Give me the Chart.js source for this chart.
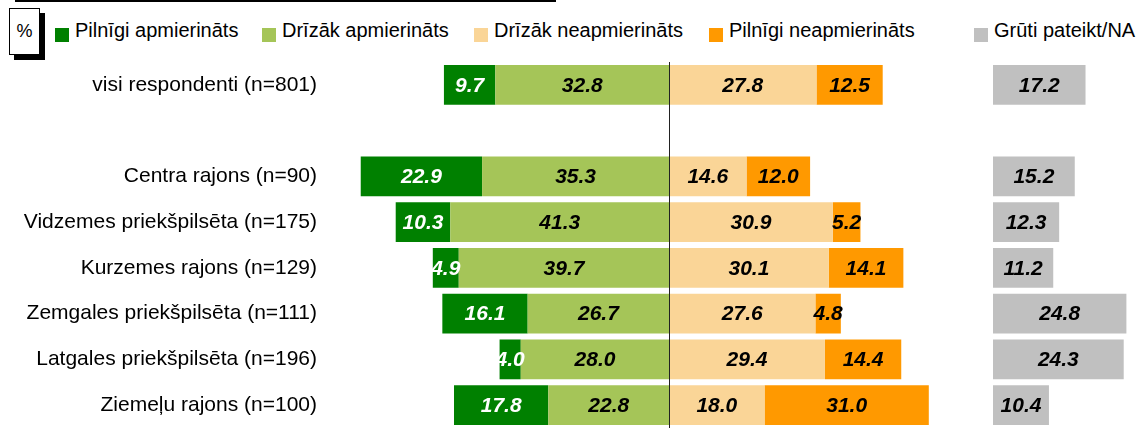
<!DOCTYPE html>
<html>
<head>
<meta charset="utf-8">
<script src="https://cdn.jsdelivr.net/npm/chart.js@4"></script>
<style>
  body { margin: 0; background: #fff; font-family: "Liberation Sans", Arial, sans-serif; }
  #wrap { position: relative; width: 1142px; height: 428px; overflow: hidden; }
  #topline { position: absolute; left: 15px; top: 0; width: 541px; height: 2px; background: #000; }
  #pct { position: absolute; left: 9px; top: 8px; width: 29px; height: 45px; border: 1px solid #000; background: #fff;
         box-shadow: 5px 5px 0 #000; font-size: 18px; line-height: 45px; text-align: center; }
  .lg { position: absolute; top: 18px; font-size: 20px; line-height: 24px; white-space: nowrap; color: #000; }
  .lg i { position: absolute; left: -20px; top: 10px; width: 14px; height: 14px; }
  #mainBox { position: absolute; left: 0; top: 62px; width: 950px; height: 366px; }
  #naBox { position: absolute; left: 993px; top: 62px; width: 149px; height: 366px; }
</style>
</head>
<body>
<div id="wrap">
  <div id="topline"></div>
  <div id="pct">%</div>
  <div id="legend"></div>
  <div id="mainBox"><canvas id="mainChart"></canvas></div>
  <div id="naBox"><canvas id="naChart"></canvas></div>
</div>
<script>
const categories = ['visi respondenti (n=801)', '', 'Centra rajons (n=90)', 'Vidzemes priekšpilsēta (n=175)',
  'Kurzemes rajons (n=129)', 'Zemgales priekšpilsēta (n=111)', 'Latgales priekšpilsēta (n=196)', 'Ziemeļu rajons (n=100)'];

const fullySatisfied = [9.7, null, 22.9, 10.3, 4.9, 16.1, 4.0, 17.8];
const ratherSatisfied = [32.8, null, 35.3, 41.3, 39.7, 26.7, 28.0, 22.8];
const ratherUnsatisfied = [27.8, null, 14.6, 30.9, 30.1, 27.6, 29.4, 18.0];
const fullyUnsatisfied = [12.5, null, 12.0, 5.2, 14.1, 4.8, 14.4, 31.0];
const hardToSay = [17.2, null, 15.2, 12.3, 11.2, 24.8, 24.3, 10.4];

const seriesNames = ['Pilnīgi apmierināts', 'Drīzāk apmierināts', 'Drīzāk neapmierināts', 'Pilnīgi neapmierināts', 'Grūti pateikt/NA'];
const colors = ['#008000', '#a5c558', '#fad597', '#ff9900', '#c0c0c0'];
const labelColors = ['#fff', '#000', '#000', '#000', '#000'];

// legend (html)
const legendX = [75, 282, 494, 729, 994];
const legendEl = document.getElementById('legend');
seriesNames.forEach((name, i) => {
  const d = document.createElement('div');
  d.className = 'lg';
  d.style.left = legendX[i] + 'px';
  d.innerHTML = '<i style="background:' + colors[i] + '"></i>' + name;
  legendEl.appendChild(d);
});

const neg = arr => arr.map(v => v == null ? null : -v);
const valueFont = 'italic bold 21px "Liberation Sans", Arial, sans-serif';

const valueLabels = {
  id: 'valueLabels',
  afterDatasetsDraw(chart) {
    const ctx = chart.ctx;
    ctx.save();
    ctx.font = valueFont;
    ctx.textAlign = 'center';
    ctx.textBaseline = 'middle';
    chart.data.datasets.forEach((ds, di) => {
      chart.getDatasetMeta(di).data.forEach((bar, i) => {
        const v = ds.data[i];
        if (v == null) return;
        const p = bar.getProps(['x', 'y', 'base'], true);
        ctx.fillStyle = ds.labelColor;
        ctx.fillText(Math.abs(v).toFixed(1), (p.x + p.base) / 2, p.y + 1);
      });
    });
    ctx.restore();
  }
};

const centerLine = {
  id: 'centerLine',
  afterDatasetsDraw(chart) {
    const x = Math.round(chart.scales.x.getPixelForValue(0)) + 0.5;
    const ctx = chart.ctx;
    ctx.save();
    ctx.strokeStyle = '#222';
    ctx.lineWidth = 1;
    ctx.beginPath();
    ctx.moveTo(x, chart.chartArea.top);
    ctx.lineTo(x, chart.chartArea.bottom);
    ctx.stroke();
    ctx.restore();
  }
};

const barOpts = { categoryPercentage: 1, barPercentage: 0.87, borderWidth: 0, stack: 's' };

new Chart(document.getElementById('mainChart'), {
  type: 'bar',
  data: {
    labels: categories,
    datasets: [
      { label: seriesNames[1], data: neg(ratherSatisfied), backgroundColor: colors[1], labelColor: labelColors[1], ...barOpts },
      { label: seriesNames[0], data: neg(fullySatisfied), backgroundColor: colors[0], labelColor: labelColors[0], ...barOpts },
      { label: seriesNames[2], data: ratherUnsatisfied, backgroundColor: colors[2], labelColor: labelColors[2], ...barOpts },
      { label: seriesNames[3], data: fullyUnsatisfied, backgroundColor: colors[3], labelColor: labelColors[3], ...barOpts }
    ]
  },
  options: {
    indexAxis: 'y',
    responsive: true,
    maintainAspectRatio: false,
    animation: false,
    layout: { padding: 0 },
    plugins: { legend: { display: false }, tooltip: { enabled: false } },
    scales: {
      x: { stacked: true, min: -64, max: 53, display: false },
      y: {
        stacked: true,
        grid: { display: false },
        border: { display: false },
        ticks: { color: '#000', padding: 5, font: { size: 21, family: '"Liberation Sans", Arial, sans-serif' } },
        afterFit(scale) {
          scale.width = 330;
          scale.paddingTop = 0;
          scale.paddingBottom = 0;
        }
      }
    }
  },
  plugins: [valueLabels, centerLine]
});

new Chart(document.getElementById('naChart'), {
  type: 'bar',
  data: {
    labels: categories,
    datasets: [
      { label: seriesNames[4], data: hardToSay, backgroundColor: colors[4], labelColor: labelColors[4], ...barOpts }
    ]
  },
  options: {
    indexAxis: 'y',
    responsive: true,
    maintainAspectRatio: false,
    animation: false,
    layout: { padding: 0 },
    plugins: { legend: { display: false }, tooltip: { enabled: false } },
    scales: {
      x: { min: 0, max: 27.7, display: false },
      y: { display: false }
    }
  },
  plugins: [valueLabels]
});
</script>
</body>
</html>
